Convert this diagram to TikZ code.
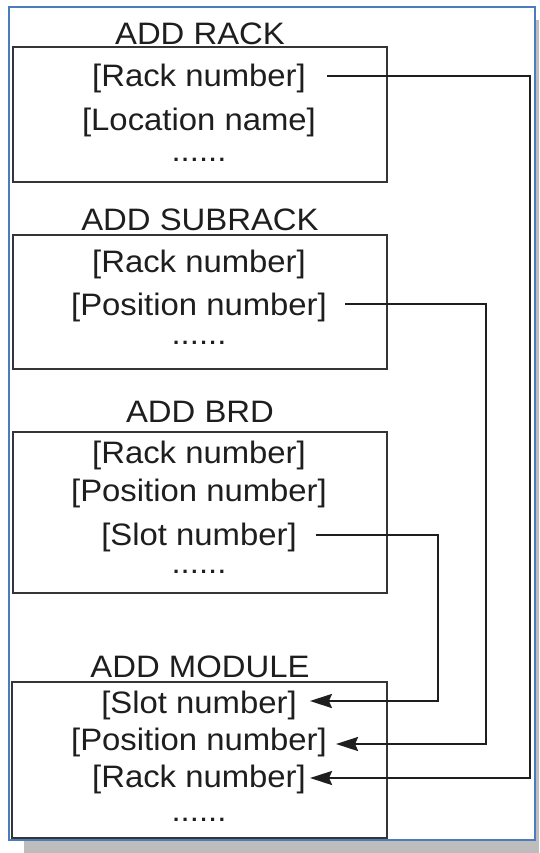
\documentclass[tikz,border=0pt]{standalone}
\usepackage{fontspec}
\setmainfont{Liberation Sans}[FakeStretch=1.06]
\usetikzlibrary{arrows.meta}
\definecolor{frameblue}{HTML}{4A7EBB}
\definecolor{shadowgray}{HTML}{BDBDBD}
\definecolor{ink}{HTML}{1E1E1E}
\begin{document}
\begin{tikzpicture}[x=1pt,y=-1pt,
  txt/.style={anchor=base,inner sep=0pt,text height=22pt,text depth=0pt,text=ink,font=\fontsize{31}{37}\selectfont},
  boxstyle/.style={draw=ink!90,line width=2.8pt},
  conn/.style={draw=ink,line width=2.4pt},
  tip/.style={-{Stealth[length=22pt,width=14pt,inset=3pt]}}]
\useasboundingbox (0,0) rectangle (539,853);
% shadow and frame
\fill[shadowgray] (24,841) rectangle (539,853);
\fill[shadowgray] (536,20) rectangle (539,853);
\draw[frameblue,line width=2.2pt,fill=white] (9,7) rectangle (535,840);
% boxes
\draw[boxstyle] (13,47) rectangle (387,182);
\draw[boxstyle] (13,235) rectangle (387,369);
\draw[boxstyle] (13,432) rectangle (387,593);
\draw[boxstyle] (12,682) rectangle (387,838);
% box 1
\node[txt] (t1) at (200,45) {ADD RACK};
\node[txt] (a1) at (199,87) {[Rack number]};
\node[txt] (a2) at (199,131) {[Location name]};
\node[txt] (a3) at (199,161) {......};
% box 2
\node[txt] (t2) at (200,230) {ADD SUBRACK};
\node[txt] (b1) at (199,272) {[Rack number]};
\node[txt] (b2) at (199,315) {[Position number]};
\node[txt] (b3) at (199,344) {......};
% box 3
\node[txt] (t3) at (200,422) {ADD BRD};
\node[txt] (c1) at (199,463) {[Rack number]};
\node[txt] (c2) at (199,501) {[Position number]};
\node[txt] (c3) at (199,545) {[Slot number]};
\node[txt] (c4) at (199,573) {......};
% box 4
\node[txt] (t4) at (200,677) {ADD MODULE};
\node[txt] (m1) at (199,713) {[Slot number]};
\node[txt] (m2) at (199,750) {[Position number]};
\node[txt] (m3) at (199,787) {[Rack number]};
\node[txt] (m4) at (199,821) {......};
% rails
\coordinate (rail1) at (530,0);
\coordinate (rail2) at (486,0);
\coordinate (rail3) at (438,0);
% connectors
\coordinate (s1) at ([xshift=21pt]a1.east);
\coordinate (e1) at ([xshift=4pt,yshift=-2pt]m3.east);
\draw[conn,tip] (s1) -- (s1 -| rail1) -- (rail1 |- e1) -- (e1);
\coordinate (s2) at ([xshift=18pt]b2.east);
\coordinate (e2) at ([xshift=9pt,yshift=-5pt]m2.east);
\draw[conn,tip] (s2) -- (s2 -| rail2) -- (rail2 |- e2) -- (e2);
\coordinate (s3) at ([xshift=19pt,yshift=-1pt]c3.east);
\coordinate (e3) at ([xshift=13pt,yshift=1pt]m1.east);
\draw[conn,tip] (s3) -- (s3 -| rail3) -- (rail3 |- e3) -- (e3);
\end{tikzpicture}
\end{document}
